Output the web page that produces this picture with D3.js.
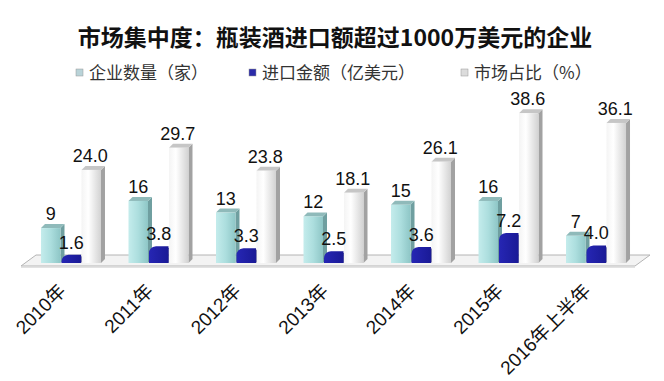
<!DOCTYPE html>
<html>
<head>
<meta charset="utf-8">
<script src="https://cdn.jsdelivr.net/npm/d3@7"></script>
<style>
  body { margin: 0; background: #fff; }
  svg { display: block; }
  .val { font-family: "Liberation Sans", Arial, sans-serif; font-size: 18px; fill: #111; text-anchor: middle; }
  .cat { font-family: "Liberation Sans", "Noto Sans CJK SC", sans-serif; font-size: 19px; fill: #111; text-anchor: end; }
  .legend { font-family: "Noto Sans CJK SC", sans-serif; font-size: 17px; fill: #333; }
  .title { font-family: "Noto Sans CJK SC", sans-serif; font-size: 23px; font-weight: bold; fill: #111; text-anchor: middle; }
</style>
</head>
<body>
<svg width="664" height="381"></svg>
<script>
const categories = ["2010年", "2011年", "2012年", "2013年", "2014年", "2015年", "2016年上半年"];
const seriesNames = ["企业数量（家）", "进口金额（亿美元）", "市场占比（%）"];
const companies = [9, 16, 13, 12, 15, 16, 7];
const imports = [1.6, 3.8, 3.3, 2.5, 3.6, 7.2, 4.0];
const share = [24.0, 29.7, 23.8, 18.1, 26.1, 38.6, 36.1];
const valueLabels = [
  ["9", "16", "13", "12", "15", "16", "7"],
  ["1.6", "3.8", "3.3", "2.5", "3.6", "7.2", "4.0"],
  ["24.0", "29.7", "23.8", "18.1", "26.1", "38.6", "36.1"]
];

const svg = d3.select("svg");
const base = 263, dx = 4, dy = 4;

const x0 = d3.scaleBand().domain(categories).range([27.25, 639.75])
  .paddingInner(0.3143).paddingOuter(0.157);
const x1 = d3.scaleBand().domain(d3.range(3)).range([0, x0.bandwidth()]);
const y = d3.scaleLinear().domain([0, 40]).range([base, base - 155.2]);

const defs = svg.append("defs");
function grad(id, stops) {
  const g = defs.append("linearGradient").attr("id", id).attr("x1", 0).attr("x2", 1).attr("y1", 0).attr("y2", 0);
  stops.forEach(s => g.append("stop").attr("offset", s[0]).attr("stop-color", s[1]));
}
grad("gTeal", [[0, "#c4ecec"], [0.5, "#acdede"], [1, "#8ec6c6"]]);
grad("gWhite", [[0, "#f4f4f4"], [0.35, "#ffffff"], [1, "#d2d2d2"]]);
grad("gBlue", [[0, "#2626b4"], [1, "#1a1a96"]]);

const styles = [
  { front: "url(#gTeal)", side: "#6f9fa0", top: "#8fbaba" },
  { front: "url(#gBlue)", side: "#10106e", top: "#3030c0" },
  { front: "url(#gWhite)", side: "#a2a2a2", top: "#c6c6c6" }
];

// title
svg.append("text").attr("class", "title").attr("x", 335).attr("y", 46)
  .text("市场集中度：瓶装酒进口额超过1000万美元的企业");

// legend
const legendX = [76, 249, 461];
const swatch = ["#b9d3d8", "#2a2aa8", "#dcdcdc"];
const lg = svg.append("g").selectAll("g").data(seriesNames).join("g")
  .attr("transform", (d, i) => `translate(${legendX[i]},73)`);
lg.append("rect").attr("x", 0).attr("y", -4).attr("width", 7).attr("height", 7)
  .attr("fill", (d, i) => swatch[i]).attr("stroke", "#999").attr("stroke-width", 0.5);
lg.append("text").attr("class", "legend").attr("x", 13).attr("y", 6).text(d => d);

// floor
const fx0 = 21, fx1 = 635, fb = 255, ff = 266;
svg.append("path")
  .attr("d", `M${fx0},${ff} L${fx0 + 15},${fb} L${fx1 + 15},${fb} L${fx1},${ff} Z`)
  .attr("fill", "#f3f3f3").attr("stroke", "#b4b4b4").attr("stroke-width", 1);
svg.append("line").attr("x1", fx0).attr("x2", fx1).attr("y1", ff + 1).attr("y2", ff + 1)
  .attr("stroke", "#d8d8d8").attr("stroke-width", 1.5);

// bars
const seriesData = [companies, imports, share];
const bars = [];
categories.forEach((c, ci) => {
  seriesData.forEach((arr, si) => {
    bars.push({ c, si, v: arr[ci], label: valueLabels[si][ci] });
  });
});

const gb = svg.append("g");
const gl = svg.append("g");
bars.forEach(b => {
  const st = styles[b.si];
  const bx = x0(b.c) + x1(b.si) + (b.si === 0 ? 0 : 0.5);
  const w = x1.bandwidth() - 0.5;
  const top = y(b.v);
  const g = gb.append("g");
  // side face
  g.append("path")
    .attr("d", `M${bx + w},${top} L${bx + w + dx},${top - dy} L${bx + w + dx},${base - dy} L${bx + w},${base} Z`)
    .attr("fill", st.side);
  if (b.si === 1) {
    const r = 5;
    g.append("path")
      .attr("d", `M${bx},${base} L${bx},${top + r} Q${bx},${top - 1} ${bx + r + 2},${top - 2} L${bx + w},${top - 2} L${bx + w},${base} Z`)
      .attr("fill", st.front);
  } else {
    g.append("path")
      .attr("d", `M${bx},${top} L${bx + dx},${top - dy} L${bx + w + dx},${top - dy} L${bx + w},${top} Z`)
      .attr("fill", st.top);
    g.append("rect").attr("x", bx).attr("y", top).attr("width", w).attr("height", base - top)
      .attr("fill", st.front);
  }
  gl.append("text").attr("class", "val")
    .attr("x", bx + w / 2 + (b.si === 2 ? -1 : 0))
    .attr("y", top - 8)
    .text(b.label);
});
gl.raise();

// category labels
svg.append("g").selectAll("text").data(categories).join("text")
  .attr("class", "cat")
  .attr("transform", d => `translate(${x0(d) + 26},292) rotate(-45)`)
  .text(d => d);
</script>
</body>
</html>
